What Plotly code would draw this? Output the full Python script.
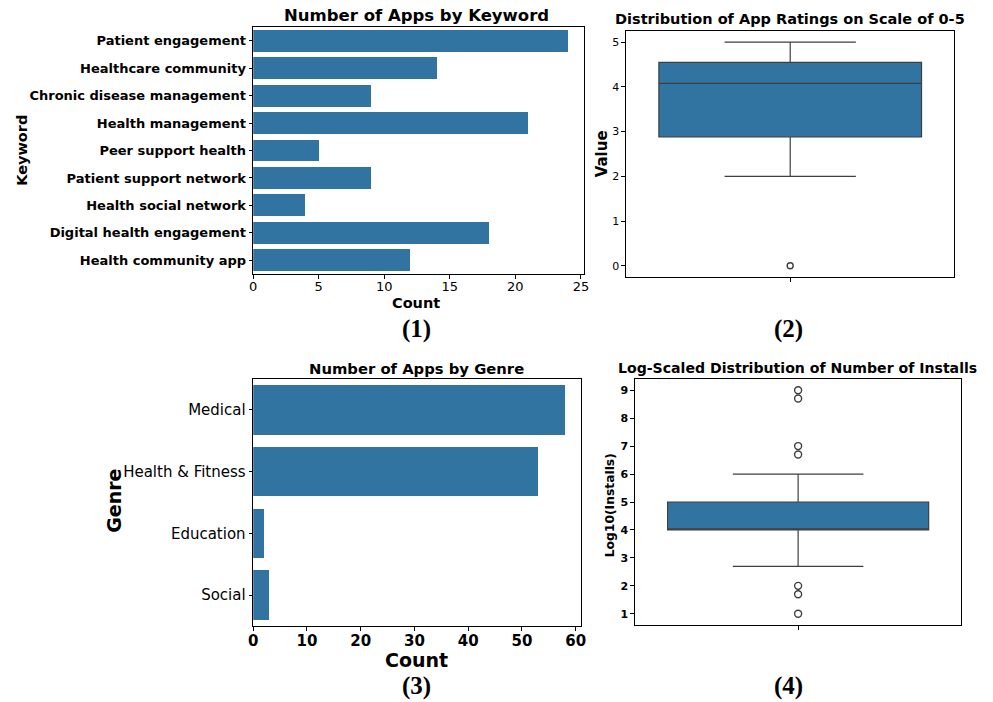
import plotly.graph_objects as go

# ---- data ----
keywords = [
    "Patient engagement", "Healthcare community", "Chronic disease management",
    "Health management", "Peer support health", "Patient support network",
    "Health social network", "Digital health engagement", "Health community app",
]
keyword_counts = [24, 14, 9, 21, 5, 9, 4, 18, 12]

genres = ["Medical", "Health & Fitness", "Education", "Social"]
genre_counts = [58, 53, 2, 3]

# box summaries: lower whisker, q1, median, q3, upper whisker
rating_box = [2.0, 2.88, 4.08, 4.55, 5.0]
rating_outliers = [0.0]

install_box = [2.7, 4.0, 4.0, 5.0, 6.0]
install_outliers = [9.0, 8.7, 7.0, 6.7, 2.0, 1.7, 1.0]

# ---- styling ----
W, H = 993, 702
BLUE = "#3274A1"
EDGE = "#3f3f3f"
FONT = "DejaVu Sans"


def px(x):
    return x / W


def py(y):
    return 1 - y / H


def frame(**kw):
    base = dict(showline=True, mirror=True, linecolor="black", linewidth=1.2,
                ticks="outside", ticklen=3.5, tickcolor="black", tickwidth=1,
                showgrid=False, zeroline=False)
    base.update(kw)
    return base


fig = go.Figure()

# (1) keyword bars
fig.add_trace(go.Bar(x=keyword_counts, y=keywords, orientation="h", width=0.8,
                     marker=dict(color=BLUE, line=dict(width=0)),
                     xaxis="x", yaxis="y", showlegend=False))

# (3) genre bars
fig.add_trace(go.Bar(x=genre_counts, y=genres, orientation="h", width=0.8,
                     marker=dict(color=BLUE, line=dict(width=0)),
                     xaxis="x3", yaxis="y3", showlegend=False))


def add_box(stats, outliers, xa, ya, msize):
    lo, q1, med, q3, hi = stats
    fig.add_trace(go.Box(x=[0], q1=[q1], median=[med], q3=[q3],
                         lowerfence=[lo], upperfence=[hi], width=0.8,
                         whiskerwidth=0.5, boxpoints=False,
                         fillcolor=BLUE, line=dict(color=EDGE, width=1.2),
                         xaxis=xa, yaxis=ya, showlegend=False))
    fig.add_trace(go.Scatter(x=[0] * len(outliers), y=outliers, mode="markers",
                             marker=dict(symbol="circle-open", size=msize,
                                         color=EDGE, line=dict(width=1.4)),
                             xaxis=xa, yaxis=ya, showlegend=False))


add_box(rating_box, rating_outliers, "x2", "y2", 6)
add_box(install_box, install_outliers, "x4", "y4", 7)

fig.update_layout(
    width=W, height=H, margin=dict(l=0, r=0, t=0, b=0),
    paper_bgcolor="white", plot_bgcolor="white",
    font=dict(family=FONT, color="black"),
    bargap=0,
    # panel 1
    xaxis=frame(domain=[px(251), px(585)], anchor="y", range=[0, 25.2],
                tickvals=[0, 5, 10, 15, 20, 25], tickfont=dict(size=13),
                ticklabelstandoff=-3),
    yaxis=frame(domain=[py(274), py(27)], anchor="x", type="category",
                categoryorder="array", categoryarray=keywords,
                range=[8.5, -0.5],
                tickfont=dict(size=13, weight="bold")),
    # panel 2
    xaxis2=frame(domain=[px(628), px(960)], anchor="y2", range=[-0.5, 0.5],
                 tickvals=[0], ticktext=[""]),
    yaxis2=frame(domain=[py(277), py(31)], anchor="x2", range=[-0.25, 5.25],
                 tickvals=[0, 1, 2, 3, 4, 5], tickfont=dict(size=11)),
    # panel 3
    xaxis3=frame(domain=[px(251), px(582)], anchor="y3", range=[0, 60.9],
                 tickvals=[0, 10, 20, 30, 40, 50, 60],
                 tickfont=dict(size=15, weight="bold"),
                 ticklabelstandoff=-3),
    yaxis3=frame(domain=[py(626), py(379)], anchor="x3", type="category",
                 categoryorder="array", categoryarray=genres,
                 range=[3.5, -0.5], tickfont=dict(size=15)),
    # panel 4
    xaxis4=frame(domain=[px(637), px(967)], anchor="y4", range=[-0.5, 0.5],
                 tickvals=[0], ticktext=[""]),
    yaxis4=frame(domain=[py(625), py(379)], anchor="x4", range=[0.6, 9.4],
                 tickvals=list(range(1, 10)),
                 tickfont=dict(size=11, weight="bold")),
)


def text(x, y, s, size, bold=True, angle=0, family=FONT):
    fig.add_annotation(x=px(x), y=py(y), xref="paper", yref="paper", text=s,
                       showarrow=False, textangle=angle, xanchor="center",
                       yanchor="middle",
                       font=dict(size=size, family=family, color="black",
                                 weight="bold" if bold else "normal"))


# titles
text(416, 16, "Number of Apps by Keyword", 16.5)
text(794, 19, "Distribution of App Ratings on Scale of 0-5", 14.5)
text(416, 368, "Number of Apps by Genre", 14.8)
text(801, 368, "Log-Scaled Distribution of Number of Installs", 14.1)

# axis titles
text(416, 303, "Count", 14.5)
text(17, 150, "Keyword", 14.5, angle=-90)
text(604, 154, "Value", 15, angle=-90)
text(416, 660, "Count", 19)
text(110, 501, "Genre", 19, angle=-90)
text(612, 505, "Log10(Installs)", 12.3, angle=-90)

# panel labels
SERIF = "Liberation Serif"
text(416, 329, "(1)", 25, family=SERIF)
text(792, 329, "(2)", 25, family=SERIF)
text(416, 686, "(3)", 25, family=SERIF)
text(792, 686, "(4)", 25, family=SERIF)

fig.write_html("out.html")
